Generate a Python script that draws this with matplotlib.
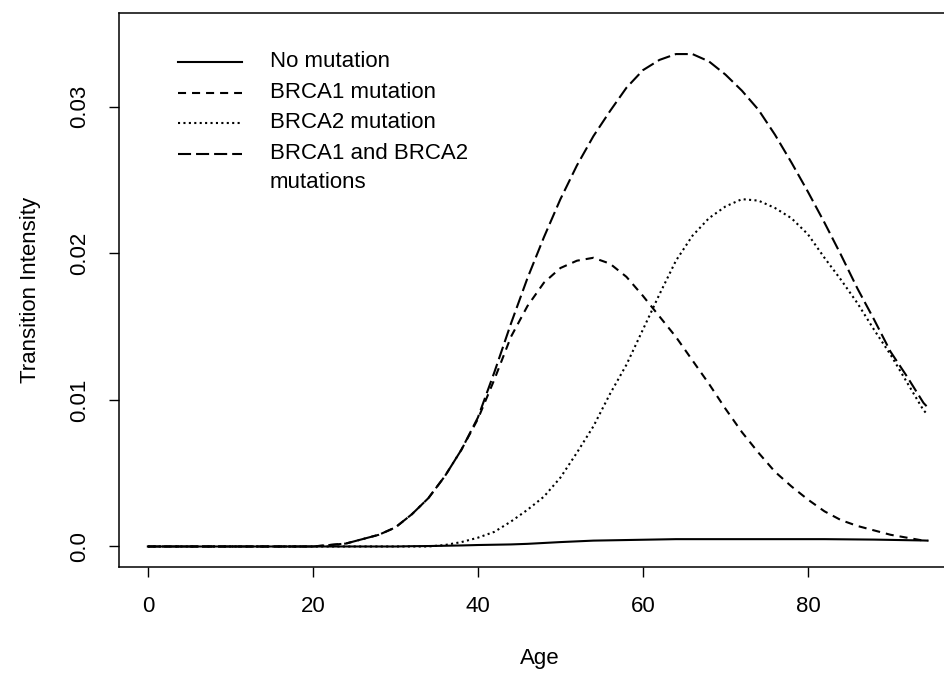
import matplotlib
matplotlib.use("Agg")
import matplotlib.pyplot as plt
import numpy as np

# data
age = [0, 10, 20, 24, 26, 28, 30, 32, 34, 36, 38, 40, 42, 44, 46, 48, 50,
       52, 54, 56, 58, 60, 62, 64, 66, 68, 70, 72, 74, 76, 78, 80, 82, 84,
       86, 88, 90, 92, 94, 94.5]

no_mut = [0, 0, 0, 0, 0, 0, 0, 0.00002, 0.00003, 0.00005, 0.00007, 0.0001,
          0.00012, 0.00014, 0.00018, 0.00024, 0.0003, 0.00035, 0.0004,
          0.00042, 0.00044, 0.00046, 0.00048, 0.0005, 0.0005, 0.0005, 0.0005,
          0.0005, 0.0005, 0.0005, 0.0005, 0.0005, 0.0005, 0.00049, 0.00048,
          0.00047, 0.00045, 0.00043, 0.00041, 0.0004]

brca1 = [0, 0, 0, 0.0002, 0.0005, 0.0008, 0.0013, 0.0022, 0.0033, 0.0048,
         0.0066, 0.0087, 0.0114, 0.0143, 0.0164, 0.0180, 0.0190, 0.0195,
         0.0197, 0.0193, 0.0184, 0.0171, 0.0157, 0.0143, 0.0127, 0.0111,
         0.0094, 0.0078, 0.0064, 0.0051, 0.0041, 0.0032, 0.0024, 0.0018,
         0.0014, 0.0011, 0.0008, 0.0006, 0.0004, 0.0004]

brca2 = [0, 0, 0, 0, 0, 0, 0, 0, 0, 0.0001, 0.0003, 0.0006, 0.0010, 0.0017,
         0.0025, 0.0034, 0.0047, 0.0064, 0.0082, 0.0104, 0.0124, 0.0148,
         0.0172, 0.0195, 0.0212, 0.0224, 0.0232, 0.0237, 0.0236, 0.0231,
         0.0224, 0.0213, 0.0197, 0.0182, 0.0166, 0.0148, 0.0131, 0.0112,
         0.0093, 0.0090]

both = [0, 0, 0, 0.0002, 0.0005, 0.0008, 0.0013, 0.0022, 0.0033, 0.0048,
        0.0066, 0.0088, 0.0119, 0.0152, 0.0183, 0.0211, 0.0237, 0.0260,
        0.0280, 0.0297, 0.0313, 0.0325, 0.0332, 0.0336, 0.0336, 0.0331,
        0.0322, 0.0311, 0.0298, 0.0281, 0.0262, 0.0242, 0.0221, 0.0199,
        0.0176, 0.0155, 0.0133, 0.0116, 0.0098, 0.0095]

labels = ["No mutation", "BRCA1 mutation", "BRCA2 mutation",
          "BRCA1 and BRCA2\nmutations"]

plt.rcParams["font.family"] = ["Liberation Sans", "DejaVu Sans"]
plt.rcParams["font.size"] = 16
plt.rcParams["lines.scale_dashes"] = False

fig = plt.figure(figsize=(9.45, 6.75), dpi=100)
ax = fig.add_axes([0.1259, 0.16, 0.8906, 0.8207])

styles = [
    dict(linestyle="-"),
    dict(dashes=(5.8, 4.3)),
    dict(dashes=(1.5, 2.4)),
    dict(dashes=(9.4, 3.6)),
]
series = [no_mut, brca1, brca2, both]

for s, st in zip(series, styles):
    ax.plot(age, s, color="black", lw=1.5, **st)

ax.set_xlim(-3.5, 98.5)
ax.set_ylim(-0.0014, 0.0364)
ax.set_xticks([0, 20, 40, 60, 80])
ax.set_yticks([0.0, 0.01, 0.02, 0.03])
ax.set_yticklabels(["0.0", "0.01", "0.02", "0.03"], rotation=90, va="center")
ax.tick_params(length=7, width=1, pad=14, color="black")
for sp in ax.spines.values():
    sp.set_linewidth(1.1)

ax.set_xlabel("Age", labelpad=22)
ax.set_ylabel("Transition Intensity", labelpad=20)

# legend, drawn by hand like the R one (no frame)
rows = [0.912, 0.856, 0.802, 0.746]
for y, st, lab in zip(rows, styles, labels):
    ax.plot([0.070, 0.146], [y, y], transform=ax.transAxes, color="black",
            lw=1.5, **st)
    ax.text(0.179, y + 0.020, lab, transform=ax.transAxes, va="top",
            ha="left", linespacing=1.55)

fig.savefig("out.png", dpi=100)
